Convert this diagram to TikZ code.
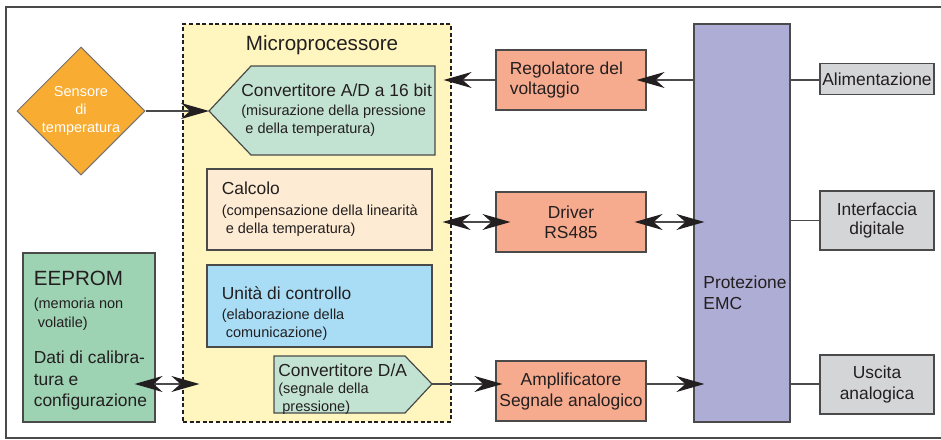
\documentclass[tikz,border=0pt]{standalone}
\usepackage{fontspec}
\setmainfont{Liberation Sans}
\usepackage{tikz}
\usetikzlibrary{shapes.geometric, arrows.meta, positioning}

\definecolor{microyellow}{HTML}{FFF6BF}
\definecolor{convgreen}{HTML}{C3E3D2}
\definecolor{calcpeach}{HTML}{FDEBD3}
\definecolor{ctrlblue}{HTML}{A9DDF5}
\definecolor{eepromgreen}{HTML}{9DD2B3}
\definecolor{salmon}{HTML}{F7AB8E}
\definecolor{emcviolet}{HTML}{AEADD5}
\definecolor{portgray}{HTML}{D4D5D7}
\definecolor{sensororange}{HTML}{F8AC32}
\definecolor{linegray}{HTML}{4A4A4A}
\definecolor{textdark}{HTML}{231F20}

\newcommand{\fsmain}{\fontsize{8.7pt}{9pt}\selectfont}
\newcommand{\fssub}{\fontsize{7.25pt}{9pt}\selectfont}
\newcommand{\fsbig}{\fontsize{10.3pt}{9pt}\selectfont}

\tikzstyle{box} = [rectangle, draw=linegray, line width=0.6pt, inner sep=0pt, align=center]
\tikzstyle{txt} = [inner sep=0pt, align=left]
\tikzstyle{microbox} = [rectangle, draw=textdark, fill=microyellow, line width=0.6pt, dash pattern=on 2pt off 1.3pt]
\tikzstyle{convbox} = [draw=linegray, fill=convgreen, line width=0.6pt]
\tikzstyle{sensorbox} = [diamond, aspect=1, minimum size=64pt, inner sep=0pt, fill=sensororange, draw=black!55, line width=0.5pt, text=white, font=\fssub, align=center]
\tikzstyle{wire} = [line width=0.6pt, draw=linegray]
\tikzstyle{arrow} = [wire, -{Stealth[length=14pt, width=8pt, inset=4.5pt, color=textdark]}]
\tikzstyle{dblarrow} = [wire, {Stealth[length=14pt, width=8pt, inset=4.5pt, color=textdark]}-{Stealth[length=14pt, width=8pt, inset=4.5pt, color=textdark]}]

\begin{document}
\begin{tikzpicture}[x=0.5pt, y=-0.5pt, font=\fsmain, text=textdark]
    \useasboundingbox (0,0) rectangle (941,439);
    % Frame
    \draw [line width=0.8pt, draw=linegray] (941,7) -| (6,438) -- (941,438);

    % Microprocessor
    \node (micro) [microbox, minimum width=134pt, minimum height=199pt] at (317,223) {};
    \node (microtitle) [txt] at (322,45) {\fsbig Microprocessore};

    \coordinate (adtip) at (209,111);
    \filldraw [convbox] (adtip) -- (251,66) -- (435,66) -- (435,155) -- (251,155) -- cycle;
    \node (adtxt) [txt, anchor=west] at (241,110) {{\fsmain Convertitore A/D a 16 bit}\\[0.5pt]{\fssub (misurazione della pressione}\\{\fssub ~e della temperatura)}};

    \node (calc) [box, fill=calcpeach, minimum width=112.5pt, minimum height=40.5pt] at (319.5,209.5) {};
    \node (calctxt) [txt, right=7.5pt of calc.west] {{\fsmain Calcolo}\\[1.5pt]{\fssub (compensazione della linearit\`a}\\{\fssub ~e della temperatura)}};

    \node (ctrl) [box, fill=ctrlblue, minimum width=112.5pt, minimum height=41pt] at (319.5,306) {};
    \node (ctrltxt) [txt, right=7.5pt of ctrl.west, yshift=-4pt] {{\fsmain Unit\`a di controllo}\\[1pt]{\fssub (elaborazione della}\\{\fssub ~comunicazione)}};

    \coordinate (datip) at (432,384);
    \filldraw [convbox] (datip) -- (405,356) -- (274,356) -- (274,413) -- (405,413) -- cycle;
    \node (datxt) [txt, anchor=west] at (278,389) {{\fsmain Convertitore D/A}\\[-0.5pt]{\fssub (segnale della}\\{\fssub ~pressione)}};

    % Outside the microprocessor
    \node (sensor) [sensorbox] at (81,111) {Sensore\\di\\temperatura};

    \node (eeprom) [box, fill=eepromgreen, minimum width=66pt, minimum height=84.5pt] at (89,337.5) {};
    \node (eepromtxt) [txt, right=5.5pt of eeprom.west, yshift=-1.5pt] {{\fsbig EEPROM}\\[2.5pt]{\fssub (memoria non}\\[0.5pt]{\fssub ~volatile)}\\[9pt]{\fsmain Dati di calibra-}\\[2pt]{\fsmain tura e}\\[1.5pt]{\fsmain configurazione}};

    \node (reg) [box, fill=salmon, minimum width=75pt, minimum height=30pt] at (571,80) {};
    \node (regtxt) [txt, right=7pt of reg.west] {Regolatore del\\[1pt]voltaggio};
    \node (driver) [box, fill=salmon, minimum width=75pt, minimum height=30pt] at (571,222) {Driver\\[1pt]RS485};
    \node (amp) [box, fill=salmon, minimum width=75pt, minimum height=30pt] at (571,391) {Amplificatore\\[1.5pt]Segnale analogico};

    \node (emc) [box, fill=emcviolet, minimum width=48pt, minimum height=199pt] at (742,223) {};
    \node (emctxt) [txt, anchor=west] at (703,293) {Protezione\\[1.5pt]EMC};

    \node (alim) [box, fill=portgray, minimum width=57pt, minimum height=15.5pt] at (877,79) {Alimentazione};
    \node (interf) [box, fill=portgray, minimum width=57pt, minimum height=29.5pt] at (877,220.5) {Interfaccia\\[0.5pt]digitale};
    \node (usc) [box, fill=portgray, minimum width=57pt, minimum height=29.5pt] at (877,384.5) {Uscita\\[1.5pt]analogica};

    % Arrows
    \draw [arrow] (sensor) -- (adtip);
    \draw [arrow, shorten >=-4pt] (reg.west) -- (reg.west -| micro.east);
    \draw [arrow, shorten >=-5pt] (emc.west |- reg) -- (reg.east);
    \draw [wire] (emc.east |- reg) -- (reg -| alim.west);

    \draw [dblarrow, shorten <=-4.5pt, shorten >=-7.5pt] (driver.west -| micro.east) -- (driver.west);
    \draw [dblarrow, shorten <=-6pt, shorten >=-5.5pt] (driver.east) -- (driver.east -| emc.west);
    \draw [wire] (emc.east |- interf) -- (interf.west);

    \draw [dblarrow, shorten <=-10.5pt, shorten >=-8.5pt] (datip -| eeprom.east) -- (datip -| micro.west);
    \draw [arrow, shorten >=-3.5pt] (datip) -- (datip -| amp.west);
    \draw [arrow, shorten >=-5.5pt] (datip -| amp.east) -- (datip -| emc.west);
    \draw [wire] (datip -| emc.east) -- (datip -| usc.west);
\end{tikzpicture}
\end{document}
